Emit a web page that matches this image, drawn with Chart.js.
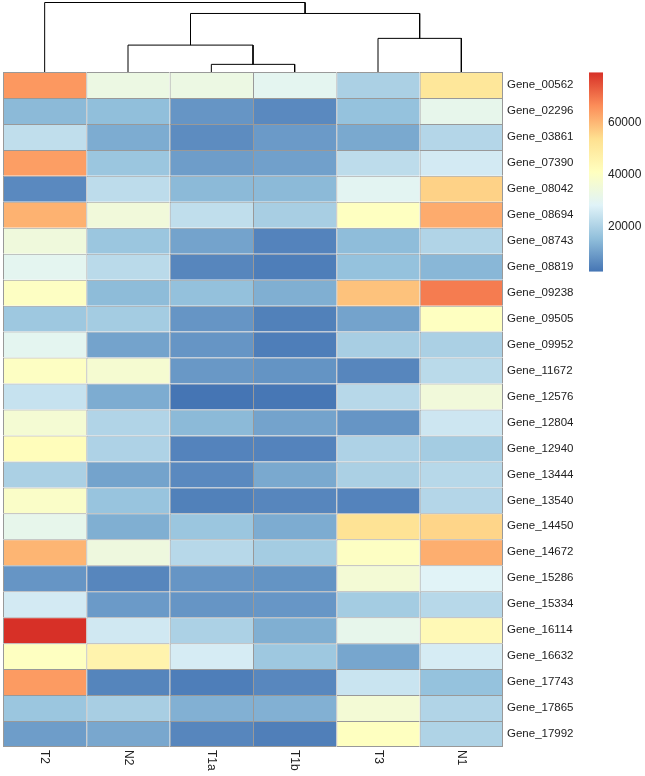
<!DOCTYPE html>
<html>
<head>
<meta charset="utf-8">
<script src="https://cdn.jsdelivr.net/npm/chart.js@4/dist/chart.umd.min.js"></script>
<style>
  html, body { margin: 0; padding: 0; background: #fff; }
  #wrap { position: relative; width: 645px; height: 776px; overflow: hidden; }
  #wrap canvas { position: absolute; }
</style>
</head>
<body>
<div id="wrap">
  <canvas id="heat" width="645" height="776" style="left:0;top:0;width:645px;height:776px"></canvas>
  <canvas id="tree" width="500" height="72" style="left:3px;top:0;width:500px;height:72px"></canvas>
  <canvas id="legend" width="65" height="260" style="left:580px;top:40px;width:65px;height:260px"></canvas>
</div>
<script>
// pheatmap-style expression heatmap, columns already in dendrogram order

const columns = ["T2", "N2", "T1a", "T1b", "T3", "N1"];
const genes = [
  "Gene_00562", "Gene_02296", "Gene_03861", "Gene_07390", "Gene_08042", "Gene_08694",
  "Gene_08743", "Gene_08819", "Gene_09238", "Gene_09505", "Gene_09952", "Gene_11672",
  "Gene_12576", "Gene_12804", "Gene_12940", "Gene_13444", "Gene_13540", "Gene_14450",
  "Gene_14672", "Gene_15286", "Gene_15334", "Gene_16114", "Gene_16632", "Gene_17743",
  "Gene_17865", "Gene_17992"
];

// values per sample, one per gene (same order as genes)
const T2  = [65000, 14500, 23000, 64000, 6000, 61000, 34500, 30000, 40000, 17500, 30000, 40000, 24000,
             36500, 42000, 19500, 39000, 31000, 60500, 8000, 26000, 79500, 40500, 64500, 17000, 9500];
const N2  = [33000, 15300, 12000, 17000, 22500, 35000, 17000, 22000, 14800, 18500, 10500, 37000, 12000,
             20500, 20000, 10500, 16500, 12500, 34000, 5500, 9000, 25500, 46000, 5200, 19000, 11200];
const T1a = [33000, 8000, 6500, 9500, 14500, 23000, 10500, 5500, 15800, 8000, 8000, 8500, 2500,
             14500, 5000, 6000, 4500, 17000, 21500, 8000, 8000, 19700, 26500, 4000, 12800, 5500];
const T1b = [30000, 6000, 9000, 10000, 14500, 19000, 5000, 4000, 12500, 4500, 4000, 7800, 2800,
             10500, 5000, 11500, 5500, 12000, 18500, 7800, 8300, 12500, 17500, 5700, 12800, 4300];
const T3  = [19500, 16000, 11500, 22500, 29500, 40500, 15000, 16000, 58500, 10500, 19000, 5500, 21500,
             8000, 20000, 19500, 5000, 52500, 40000, 36000, 18500, 31000, 11000, 24500, 36000, 40700];
const N1  = [51000, 31000, 21000, 26000, 56000, 62000, 20500, 14000, 69000, 40500, 19500, 22000, 35000,
             25000, 18500, 21500, 21000, 55500, 61500, 28500, 21500, 43500, 26500, 16000, 20500, 20200];

// column clustering: leaf names or index of an earlier merge, with merge height
const merges = [
  { a: "T1a", b: "T1b", h: 11.0 },
  { a: "N2",  b: 0,     h: 38.7 },
  { a: "T3",  b: "N1",  h: 48.4 },
  { a: 1,     b: 2,     h: 84.2 },
  { a: "T2",  b: 3,     h: 100 },
];

const legendTicks = [20000, 40000, 60000];

// rev(RdYlBu, 7)
const palette = ["#4575B4", "#91BFDB", "#E0F3F8", "#FFFFBF", "#FEE090", "#FC8D59", "#D73027"];

const FONT = "'Liberation Sans', Arial, sans-serif";
const TEXT = "#222";

const matrix = genes.map((g, r) => [T2, N2, T1a, T1b, T3, N1].map(col => col[r]));
const all = matrix.flat();
const vmin = Math.min(...all);
const vmax = Math.max(...all);

function hexRgb(h) {
  return [1, 3, 5].map(i => parseInt(h.slice(i, i + 2), 16));
}

function colorFor(v) {
  const t = Math.max(0, Math.min(1, (v - vmin) / (vmax - vmin))) * (palette.length - 1);
  const i = Math.min(Math.floor(t), palette.length - 2);
  const f = t - i;
  const a = hexRgb(palette[i]), b = hexRgb(palette[i + 1]);
  const c = a.map((x, k) => Math.round(x + (b[k] - x) * f));
  return `rgb(${c[0]},${c[1]},${c[2]})`;
}

// ── heatmap ────────────────────────────────────────────────────────────────
const lastCol = columns.length - 1;
const lastRow = genes.length - 1;

const colLabels = {
  id: "colLabels",
  afterDraw(chart) {
    const { ctx, chartArea, scales } = chart;
    ctx.save();
    ctx.fillStyle = TEXT;
    ctx.font = `12px ${FONT}`;
    ctx.textAlign = "left";
    ctx.textBaseline = "middle";
    columns.forEach((c, i) => {
      ctx.save();
      ctx.translate(scales.x.getPixelForValue(i), chartArea.bottom + 3);
      ctx.rotate(Math.PI / 2);
      ctx.fillText(c, 0, 0);
      ctx.restore();
    });
    ctx.restore();
  }
};

new Chart(document.getElementById("heat"), {
  type: "bar",
  data: {
    labels: columns,
    datasets: genes.map((g, r) => ({
      label: g,
      data: columns.map(() => [r, r + 1]),
      backgroundColor: matrix[r].map(colorFor),
      borderColor: "#999999",
      borderSkipped: false,
      borderWidth: ctx => ({ left: 1, top: 1, right: ctx.dataIndex === lastCol ? 1 : 0, bottom: ctx.datasetIndex === lastRow ? 1 : 0 }),
      inflateAmount: 0,
      barPercentage: 1,
      categoryPercentage: 1,
      grouped: false,
    })),
  },
  options: {
    responsive: false,
    animation: false,
    events: [],
    layout: { padding: { left: 3, top: 72, right: 0, bottom: 29 } },
    plugins: { legend: { display: false }, tooltip: { enabled: false } },
    scales: {
      x: { type: "category", display: false, offset: true },
      y: { type: "linear", display: false, min: 0, max: genes.length, reverse: true },
      rows: {
        type: "category",
        labels: genes,
        position: "right",
        offset: true,
        grid: { display: false, drawTicks: false },
        border: { display: false },
        ticks: { color: TEXT, font: { family: FONT, size: 11.5 }, padding: 4, autoSkip: false },
        afterFit: s => { s.width = 142; },
      },
    },
  },
  plugins: [colLabels],
});

// ── dendrogram ─────────────────────────────────────────────────────────────
const nodes = [];
function nodePos(ref) {
  if (typeof ref === "string") return { x: columns.indexOf(ref) + 0.5, h: 0 };
  return nodes[ref];
}
const treeSets = merges.map(m => {
  const a = nodePos(m.a), b = nodePos(m.b);
  nodes.push({ x: (a.x + b.x) / 2, h: m.h });
  return {
    data: [{ x: a.x, y: a.h }, { x: a.x, y: m.h }, { x: b.x, y: m.h }, { x: b.x, y: b.h }],
    showLine: true,
    borderColor: "#000",
    borderWidth: 1,
    pointRadius: 0,
    tension: 0,
    clip: false,
  };
});

new Chart(document.getElementById("tree"), {
  type: "scatter",
  data: { datasets: treeSets },
  options: {
    responsive: false,
    animation: false,
    events: [],
    layout: { padding: { left: 0, top: 2.5, right: 0, bottom: 0 } },
    plugins: { legend: { display: false }, tooltip: { enabled: false } },
    scales: {
      x: { type: "linear", display: false, min: 0, max: columns.length },
      y: { type: "linear", display: false, min: 0, max: 100 },
    },
  },
});

// ── colour key ─────────────────────────────────────────────────────────────
new Chart(document.getElementById("legend"), {
  type: "bar",
  data: {
    labels: ["key"],
    datasets: [{
      data: [[vmin, vmax]],
      backgroundColor: ctx => {
        const { chart } = ctx;
        if (!chart.chartArea) return palette[0];
        const y = chart.scales.y;
        const g = chart.ctx.createLinearGradient(0, y.getPixelForValue(vmin), 0, y.getPixelForValue(vmax));
        palette.forEach((c, i) => g.addColorStop(i / (palette.length - 1), c));
        return g;
      },
      borderWidth: 0,
      inflateAmount: 0,
      barPercentage: 1,
      categoryPercentage: 1,
    }],
  },
  options: {
    responsive: false,
    animation: false,
    events: [],
    layout: { padding: { left: 9, top: 32.3, right: 0, bottom: 28.3 } },
    plugins: { legend: { display: false }, tooltip: { enabled: false } },
    scales: {
      x: { display: false },
      y: {
        position: "right",
        min: vmin,
        max: vmax,
        grid: { display: false, drawTicks: false },
        border: { display: false },
        ticks: { color: TEXT, font: { family: FONT, size: 12 }, padding: 5, callback: v => String(v) },
        afterBuildTicks: s => { s.ticks = legendTicks.map(v => ({ value: v })); },
        afterFit: s => { s.width = 42; },
      },
    },
  },
});
</script>
</body>
</html>
